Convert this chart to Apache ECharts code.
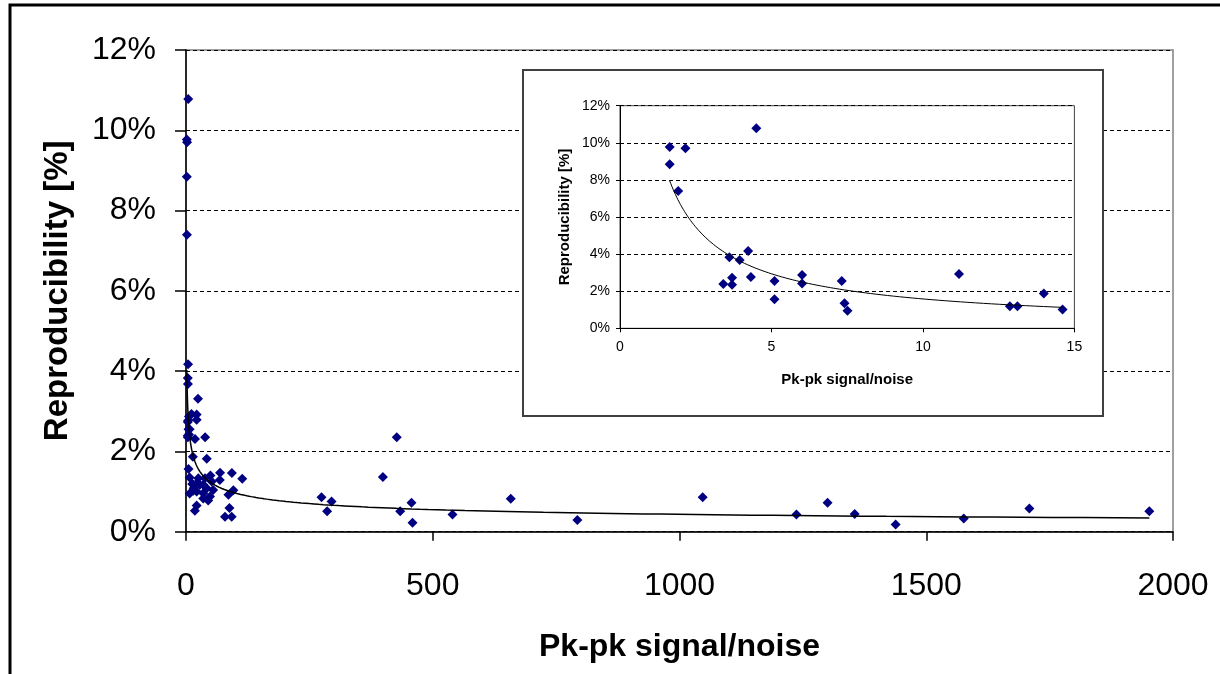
<!DOCTYPE html>
<html><head><meta charset="utf-8">
<script src="https://cdn.jsdelivr.net/npm/echarts@6/dist/echarts.min.js"></script>
<style>html,body{margin:0;padding:0;background:#fff}#c{width:1220px;height:674px}</style>
</head><body><div id="c"></div>
<script>
// Points with signal/noise below 15 (shown in both the main chart and the inset)
const lowSNx = [1.64, 1.64, 2.16, 4.50, 1.92, 3.61, 3.95, 4.23, 3.41, 3.70, 3.70, 4.32,
                5.10, 5.10, 6.01, 6.01, 7.32, 7.41, 7.51, 11.19, 12.87, 13.12, 13.99, 14.61];
const lowSNy = [9.77, 8.84, 9.70, 10.78, 7.40, 3.83, 3.68, 4.17, 2.39, 2.73, 2.35, 2.77,
                2.55, 1.56, 2.87, 2.42, 2.55, 1.35, 0.95, 2.93, 1.19, 1.19, 1.87, 1.02];
// Points with signal/noise above 15 (main chart only)
const highSNx = [24.3, 21.6, 21.6, 18.2, 38.8, 42, 69, 93, 114, 49.5, 68.5, 52, 28, 42, 21.6,
                 35, 55, 48.6, 45, 86, 96, 15.5, 35, 25, 38.5, 21.6, 35, 21.6, 18, 88, 79, 92.6,
                 274.6, 295, 286, 399, 427, 434, 457, 459, 540, 658, 793, 1047, 1237, 1300,
                 1355, 1438, 1576, 1709, 1952];
const highSNy = [3.31, 2.92, 2.79, 2.31, 2.35, 1.82, 1.47, 1.46, 1.32, 1.40, 1.29, 1.25, 1.17, 1.08, 1.00,
                 0.96, 1.04, 0.88, 0.78, 0.92, 1.03, 1.08, 1.17, 1.33, 1.33, 1.21, 0.83, 0.65, 0.52, 0.59, 0.37, 0.37,
                 0.86, 0.75, 0.51, 1.36, 2.35, 0.51, 0.72, 0.22, 0.43, 0.82, 0.29, 0.86, 0.43, 0.72,
                 0.44, 0.18, 0.33, 0.58, 0.51];
// Axis ranges [min, max, interval]
const mainXRange = [0, 2000, 500];
const mainYRange = [0, 12, 2];
const insetXRange = [0, 15, 5];
const insetYRange = [0, 12, 2];

const xTitle = 'Pk-pk signal/noise';
const yTitle = 'Reproducibility [%]';

// Power-law trendline (least squares in log-log space, as a spreadsheet power trendline)
function powerTrend(xs, ys, n) {
  const lx = xs.map(Math.log), ly = ys.map(Math.log);
  const m = lx.length;
  const mx = lx.reduce((a, b) => a + b, 0) / m, my = ly.reduce((a, b) => a + b, 0) / m;
  let sxy = 0, sxx = 0;
  for (let i = 0; i < m; i++) { sxy += (lx[i] - mx) * (ly[i] - my); sxx += (lx[i] - mx) * (lx[i] - mx); }
  const b = sxy / sxx, a = Math.exp(my - b * mx);
  const x0 = Math.min(...xs), x1 = Math.max(...xs);
  const pts = [];
  for (let i = 0; i <= n; i++) {
    const x = Math.exp(Math.log(x0) + (Math.log(x1) - Math.log(x0)) * i / n);
    pts.push([x, a * Math.pow(x, b)]);
  }
  return pts;
}

const allX = lowSNx.concat(highSNx), allY = lowSNy.concat(highSNy);
const mainPts = allX.map((x, i) => [x, allY[i]]);
const insetPts = lowSNx.map((x, i) => [x, lowSNy[i]]);

const FF = 'Liberation Sans, Arial, sans-serif';
const chart = echarts.init(document.getElementById('c'), null, {renderer: 'canvas'});
chart.setOption({
  animation: false,
  backgroundColor: '#fff',
  textStyle: {fontFamily: FF},
  graphic: [
    {type: 'rect', shape: {x: 10, y: 5, width: 1400, height: 900}, style: {fill: 'none', stroke: '#000', lineWidth: 3}, z: 1},
    {type: 'rect', shape: {x: 523, y: 70, width: 580, height: 346}, style: {fill: '#fff', stroke: '#404040', lineWidth: 2}, z: 5}
  ],
  grid: [
    {left: 186, right: 47, top: 50, bottom: 142.3, show: true, borderColor: '#808080', borderWidth: 1.5, backgroundColor: 'transparent'},
    {left: 620, top: 105.7, width: 454.4, height: 222.6, show: true, borderColor: '#404040', borderWidth: 1, backgroundColor: 'transparent', z: 10}
  ],
  xAxis: [
    {gridIndex: 0, type: 'value', min: mainXRange[0], max: mainXRange[1], interval: mainXRange[2],
     axisLine: {onZero: false, lineStyle: {color: '#000', width: 1.5}},
     axisTick: {show: true, length: 9, lineStyle: {color: '#000', width: 1.5}},
     axisLabel: {fontSize: 32, color: '#000', margin: 38, fontFamily: FF, formatter: v => String(v)},
     splitLine: {show: false},
     name: xTitle, nameLocation: 'middle', nameGap: 99,
     nameTextStyle: {fontSize: 32, fontWeight: 'bold', color: '#000', fontFamily: FF}},
    {gridIndex: 1, type: 'value', min: insetXRange[0], max: insetXRange[1], interval: insetXRange[2], z: 11,
     axisLine: {onZero: false, lineStyle: {color: '#000', width: 1}},
     axisTick: {show: true, length: 4, lineStyle: {color: '#000'}},
     axisLabel: {fontSize: 14, color: '#000', margin: 12, fontFamily: FF, formatter: v => String(v)},
     splitLine: {show: false},
     name: xTitle, nameLocation: 'middle', nameGap: 44,
     nameTextStyle: {fontSize: 15, fontWeight: 'bold', color: '#000', fontFamily: FF}}
  ],
  yAxis: [
    {gridIndex: 0, type: 'value', min: mainYRange[0], max: mainYRange[1], interval: mainYRange[2],
     axisLine: {show: true, onZero: false, lineStyle: {color: '#000', width: 1.5}},
     axisTick: {show: true, length: 11, lineStyle: {color: '#000', width: 1.5}},
     axisLabel: {fontSize: 32, color: '#000', margin: 30, formatter: '{value}%', fontFamily: FF},
     splitLine: {show: true, lineStyle: {color: '#000', width: 1, type: [4, 3]}},
     name: yTitle, nameLocation: 'middle', nameGap: 112, nameRotate: 90,
     nameTextStyle: {fontSize: 33, fontWeight: 'bold', color: '#000', fontFamily: FF}},
    {gridIndex: 1, type: 'value', min: insetYRange[0], max: insetYRange[1], interval: insetYRange[2], z: 11,
     axisLine: {show: true, onZero: false, lineStyle: {color: '#000', width: 1}},
     axisTick: {show: true, length: 4, lineStyle: {color: '#000'}},
     axisLabel: {fontSize: 14, color: '#000', margin: 10, formatter: '{value}%', fontFamily: FF},
     splitLine: {show: true, lineStyle: {color: '#000', width: 1, type: [4, 3]}},
     name: yTitle, nameLocation: 'middle', nameGap: 48, nameRotate: 90,
     nameTextStyle: {fontSize: 15, fontWeight: 'bold', color: '#000', fontFamily: FF}}
  ],
  series: [
    {type: 'scatter', xAxisIndex: 0, yAxisIndex: 0, data: mainPts, symbol: 'diamond', symbolSize: 10,
     itemStyle: {color: '#000080', opacity: 1}, z: 3},
    {type: 'line', xAxisIndex: 0, yAxisIndex: 0, data: powerTrend(allX, allY, 200), showSymbol: false,
     lineStyle: {color: '#000', width: 1.5}, z: 4},
    {type: 'scatter', xAxisIndex: 1, yAxisIndex: 1, data: insetPts, symbol: 'diamond', symbolSize: 10,
     itemStyle: {color: '#000080', opacity: 1}, z: 12},
    {type: 'line', xAxisIndex: 1, yAxisIndex: 1, data: powerTrend(lowSNx, lowSNy, 100), showSymbol: false,
     lineStyle: {color: '#000', width: 1}, z: 13}
  ]
});
</script>
</body></html>
